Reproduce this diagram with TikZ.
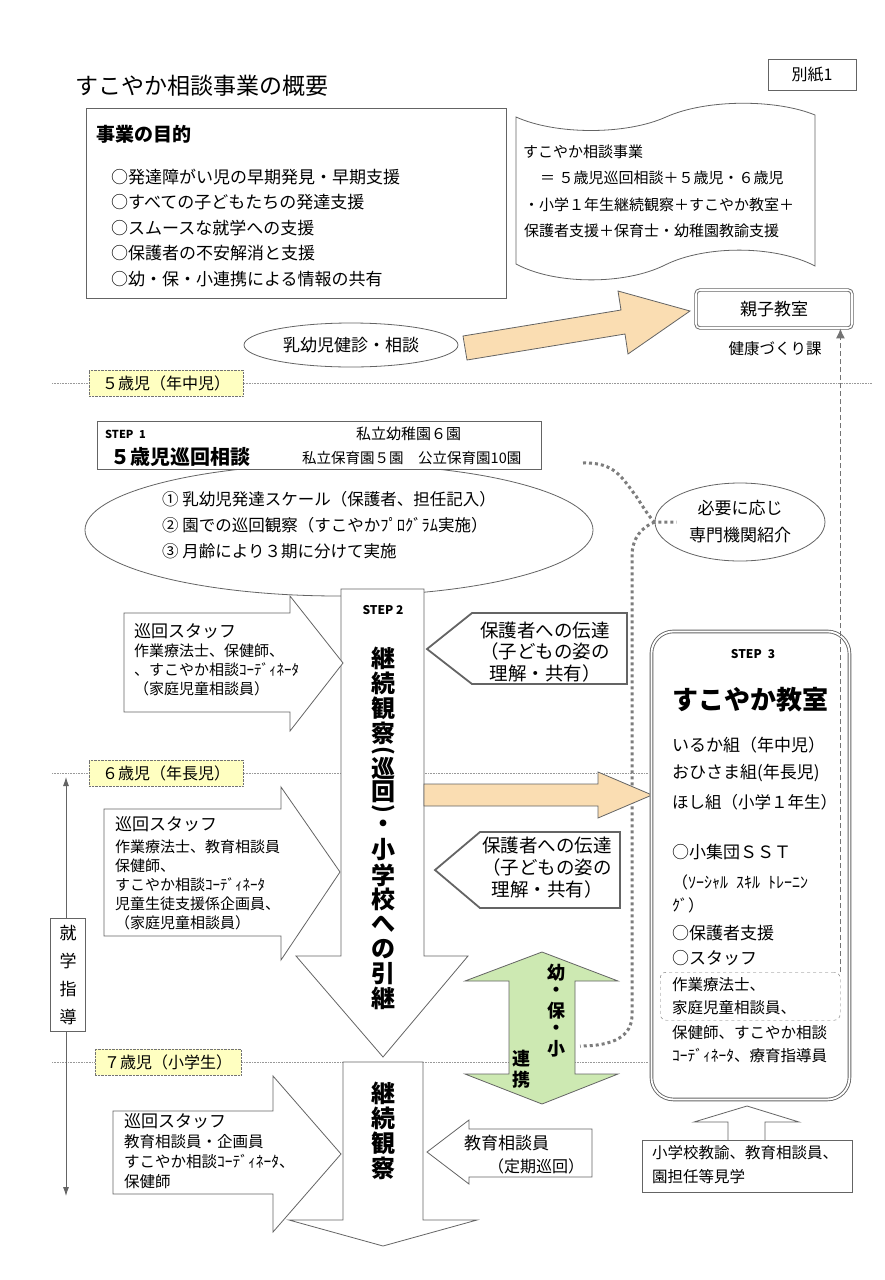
\documentclass[tikz,border=0pt]{standalone}
\usepackage{fontspec}
\setmainfont{Noto Sans CJK JP}
\usepackage{xcolor}
\usepackage{tikz}
\usetikzlibrary{arrows.meta,positioning,shapes.geometric,calc}

\definecolor{tanfill}{RGB}{250,221,178}
\definecolor{greenfill}{RGB}{205,233,178}
\definecolor{agefill}{RGB}{255,255,193}
\definecolor{edgegray}{RGB}{100,100,100}
\definecolor{dotgray}{RGB}{125,125,125}

\newcommand{\fsz}[1]{\fontsize{#1}{#1}\selectfont}

\begin{document}
\begin{tikzpicture}[x=1pt, y=-1pt,
    every node/.style={inner sep=0pt, font=\fsz{15}},
    box/.style={draw=edgegray, line width=0.8pt, fill=white},
    blockarrow/.style={draw=edgegray, line width=0.8pt, fill=white, line join=miter},
    notice/.style={draw=edgegray, line width=1.8pt, fill=white, line join=miter},
    agetag/.style={draw=black!55, densely dotted, fill=agefill, minimum width=154pt, minimum height=26pt, font=\fsz{16}},
    ageline/.style={draw=black!40, densely dotted, line width=0.6pt},
    dotlink/.style={draw=dotgray, line width=3pt, dash pattern=on 3pt off 3pt},
    dashlink/.style={draw=black!55, line width=1pt, dash pattern=on 5pt off 3pt},
    row/.style={anchor=west}
  ]
    % Page
    \fill[white] (0,0) rectangle (885,1280);
    \useasboundingbox (0,0) rectangle (885,1280);

    % Age lines
    \draw[ageline] (52,383) -- (872,383);
    \draw[ageline] (52,773) -- (648,773);
    \draw[ageline] (52,1062) -- (648,1062);

    % Title and purpose
    \node[anchor=west, font=\fsz{23}] (title) at (75,86) {すこやか相談事業の概要};
    \node[box, minimum width=88, minimum height=31, font=\fsz{16}] (annex) at (812,75) {別紙1};
    \node[box, anchor=north west, minimum width=420, minimum height=190] (purpose) at (86,108) {};
    \node[row, font=\bfseries\fsz{19}] (aim) at (96,134) {事業の目的};
    \foreach \t/\yy [count=\i] in {○発達障がい児の早期発見・早期支援/177, ○すべての子どもたちの発達支援/202,
        ○スムースな就学への支援/228, ○保護者の不安解消と支援/253, ○幼・保・小連携による情報の共有/279}
      \node[row, font=\fsz{17}] (aim\i) at (111,\yy) {\t};

    % Tape
    \draw[box] (516,117) .. controls (556,135) and (626,135) .. (666,117) .. controls (706,99) and (776,99) .. (815,115)
      -- (815,266) .. controls (775,245) and (705,245) .. (665,265) .. controls (625,285) and (555,285) .. (516,264) -- cycle;
    \node[row] (tape1) at (523,152) {すこやか相談事業};
    \node[row] (tape2) at (540,178) {＝ ５歳児巡回相談＋５歳児・６歳児};
    \node[row] (tape3) at (524,205) {・小学１年生継続観察＋すこやか教室＋};
    \node[row] (tape4) at (524,231) {保護者支援＋保育士・幼稚園教諭支援};

    % Oyako
    \node[draw=edgegray, double, double distance=1.6pt, line width=0.9pt, fill=white, rounded corners=4pt,
      minimum width=156, minimum height=38, font=\fsz{17}] (oyako) at (774,309) {親子教室};
    \node[font=\fsz{15.5}] (kenko) at (775,349) {健康づくり課};
    \draw[blockarrow, fill=tanfill] (463,336) -- (621,310) -- (618,291) -- (690,311) -- (628,354) -- (625,334) -- (467,360) -- cycle;
    \node[draw=edgegray, line width=0.8pt, ellipse, fill=white, minimum width=214, minimum height=44, font=\fsz{17}] (kenshin) at (351,345) {乳幼児健診・相談};

    % STEP 1
    \node[draw=edgegray, line width=0.8pt, ellipse, fill=white, minimum width=508, minimum height=132] (visit) at (339,530) {};
    \node[row, font=\fsz{16.5}] (visit1) at (162,499) {① 乳幼児発達スケール（保護者、担任記入）};
    \node[row, font=\fsz{16.5}] (visit2) at (162,525) {② 園での巡回観察（すこやかﾌﾟﾛｸﾞﾗﾑ実施）};
    \node[row, font=\fsz{16.5}] (visit3) at (162,551) {③ 月齢により３期に分けて実施};
    \node[box, anchor=north west, minimum width=444, minimum height=48] (stepone) at (97,421) {};
    \node[row, font=\bfseries\fsz{11}] (stepone1) at (105,434) {STEP\enspace 1};
    \node[row, font=\bfseries\fsz{20}] (stepone2) at (110,457) {５歳児巡回相談};
    \node[row] (stepone3) at (356,434) {私立幼稚園６園};
    \node[row, font=\fsz{14.5}] (stepone4) at (302,458) {私立保育園５園\quad 公立保育園10園};

    % Referral
    \coordinate (dotstart) at (583,463);
    \coordinate (dotend) at (580,1046);
    \node[draw=edgegray, line width=0.8pt, ellipse, minimum width=170, minimum height=78, align=center,
      font=\fontsize{17}{27}\selectfont] (refer) at (740,522) {必要に応じ\\専門機関紹介};
    \draw[dotlink] (dotstart) .. controls (615,462) and (622,478) .. (636,496) .. controls (645,510) and (650,518) .. (refer.west) -- ++(22,0);
    \draw[dotlink] (refer.west) .. controls (642,527) and (632,538) .. (632,556) -- (632,1015) .. controls (632,1036) and (614,1046) .. (dotend);

    % STEP 2
    \draw[blockarrow] (341,589) -- (424,589) -- (424,956) -- (468,956) -- (383,1057) -- (296,956) -- (341,956) -- cycle;
    \node[font=\bfseries\fsz{12}] (steptwo) at (383,610) {STEP 2};
    \foreach \ch/\yy [count=\i] in {継/658, 続/683, 観/708, 察/733, 巡/768, 回/792, ・/826,
        小/850, 学/875, 校/899, へ/924, の/949, 引/974, 継/998}
      \node[font=\bfseries\fsz{24}] (stwo\i) at (383,\yy) {\ch};
    \node[font=\bfseries\fsz{22}, rotate=-90] (stwoopen) at (383,751) {(};
    \node[font=\bfseries\fsz{22}, rotate=-90] (stwoclose) at (383,809) {)};

    \draw[blockarrow] (124,613) -- (290,613) -- (290,596) -- (343,663) -- (290,731) -- (290,712) -- (124,712) -- cycle;
    \node[row, font=\fsz{17}] (staffa1) at (134,631) {巡回スタッフ};
    \node[row] (staffa2) at (134,651) {作業療法士、保健師、};
    \node[row] (staffa3) at (134,670) {、すこやか相談ｺｰﾃﾞｨﾈｰﾀ};
    \node[row] (staffa4) at (134,689) {（家庭児童相談員）};

    \draw[notice] (427,649) -- (472,613) -- (627,613) -- (627,684) -- (472,684) -- cycle;
    \node[align=center, font=\fontsize{18.5}{21.5}\selectfont] (tella) at (545,652) {保護者への伝達\\（子どもの姿の\\理解・共有）};

    \draw[blockarrow] (104,809) -- (281,809) -- (281,787) -- (340,872) -- (281,960) -- (281,936) -- (104,936) -- cycle;
    \node[row, font=\fsz{17}] (staffb1) at (115,824) {巡回スタッフ};
    \node[row] (staffb2) at (115,847) {作業療法士、教育相談員};
    \node[row] (staffb3) at (115,866) {保健師、};
    \node[row] (staffb4) at (115,885) {すこやか相談ｺｰﾃﾞｨﾈｰﾀ};
    \node[row] (staffb5) at (115,904) {児童生徒支援係企画員、};
    \node[row] (staffb6) at (115,923) {（家庭児童相談員）};

    \draw[notice] (435,870) -- (480,832) -- (620,832) -- (620,908) -- (480,908) -- cycle;
    \node[align=center, font=\fontsize{18.5}{22}\selectfont] (tellb) at (547,868) {保護者への伝達\\（子どもの姿の\\理解・共有）};

    \draw[blockarrow, fill=tanfill] (424,784) -- (598,784) -- (598,772) -- (652,795) -- (598,818) -- (598,806) -- (424,806) -- cycle;

    % Link arrow
    \draw[blockarrow, fill=greenfill] (542,952) -- (618,981) -- (575,981) -- (575,1074) -- (618,1074) -- (542,1104)
      -- (465,1074) -- (509,1074) -- (509,981) -- (465,981) -- cycle;
    \foreach \ch/\yy [count=\i] in {幼/973, ・/992, 保/1011, ・/1030, 小/1049}
      \node[font=\bfseries\fsz{18}] (link\i) at (556,\yy) {\ch};
    \node[font=\bfseries\fsz{18}] (link6) at (521,1059) {連};
    \node[font=\bfseries\fsz{18}] (link7) at (521,1080) {携};

    % Guidance
    \coordinate (guidetop) at (66,777);
    \coordinate (guidebot) at (66,1196);
    \draw[edgegray, line width=0.8pt, {Latex[length=9pt,width=6pt]}-{Latex[length=9pt,width=6pt]}] (guidetop) -- (guidebot);
    \node[box, minimum width=35, minimum height=113, align=center, font=\fontsize{17}{28}\selectfont] (guide) at (68,975) {就\\学\\指\\導};

    % STEP 3
    \node[draw=edgegray, double, double distance=1.8pt, line width=0.9pt, fill=white, rounded corners=22pt,
      anchor=north west, minimum width=198, minimum height=468] (stepthree) at (651,631) {};
    \node[font=\bfseries\fsz{12}] (stepthree0) at (753,654) {STEP\enspace 3};
    \node[row, font=\bfseries\fsz{26}] (stepthree1) at (672,700) {すこやか教室};
    \node[row, font=\fsz{17}] (class1) at (672,745) {いるか組（年中児）};
    \node[row, font=\fsz{17}] (class2) at (672,773) {おひさま組(年長児)};
    \node[row, font=\fsz{16.5}] (class3) at (672,802) {ほし組（小学１年生）};
    \node[row, font=\fsz{17}] (sst1) at (672,852) {○小集団ＳＳＴ};
    \node[row, font=\fsz{16}] (sst2) at (672,882) {（ｿｰｼｬﾙ\enspace ｽｷﾙ\enspace ﾄﾚｰﾆﾝ};
    \node[row, font=\fsz{16}] (sst3) at (672,905) {ｸﾞ）};
    \node[row, font=\fsz{17}] (parent) at (672,933) {○保護者支援};
    \node[row, font=\fsz{17}] (staff) at (672,958) {○スタッフ};
    \node[draw=black!55, dashed, rounded corners=6pt, anchor=north west, minimum width=180, minimum height=48] (staffframe) at (660,972) {};
    \node[row, font=\fsz{15.5}] (staffc1) at (672,985) {作業療法士、};
    \node[row, font=\fsz{15.5}] (staffc2) at (672,1008) {家庭児童相談員、};
    \node[row, font=\fsz{15.5}] (staffc3) at (672,1033) {保健師、すこやか相談};
    \node[row, font=\fsz{15.5}] (staffc4) at (672,1056) {ｺｰﾃﾞｨﾈｰﾀ、療育指導員};
    \draw[dashlink, -{Latex[length=10pt,width=9pt]}] (staffframe.north east) -- (staffframe.north east |- oyako.south);

    % Visit box
    \draw[blockarrow] (728,1141) -- (728,1122) -- (694,1122) -- (747,1106) -- (799,1122) -- (765,1122) -- (765,1141);
    \node[box, anchor=north west, minimum width=210, minimum height=52] (visitors) at (642,1140) {};
    \node[row, font=\fsz{15.5}] (visitors1) at (652,1153) {小学校教諭、教育相談員、};
    \node[row, font=\fsz{15.5}] (visitors2) at (652,1177) {園担任等見学};

    % Grade 1
    \draw[blockarrow] (343,1062) -- (423,1062) -- (423,1220) -- (477,1220) -- (383,1246) -- (289,1220) -- (343,1220) -- cycle;
    \foreach \ch/\yy [count=\i] in {継/1093, 続/1118, 観/1143, 察/1168}
      \node[font=\bfseries\fsz{24}] (sthree\i) at (383,\yy) {\ch};
    \draw[blockarrow] (113,1111) -- (273,1111) -- (273,1076) -- (341,1154) -- (273,1232) -- (273,1194) -- (113,1194) -- cycle;
    \node[row, font=\fsz{17}] (staffd1) at (124,1121) {巡回スタッフ};
    \node[row, font=\fsz{15.5}] (staffd2) at (124,1142) {教育相談員・企画員};
    \node[row, font=\fsz{15.5}] (staffd3) at (124,1162) {すこやか相談ｺｰﾃﾞｨﾈｰﾀ、};
    \node[row, font=\fsz{15.5}] (staffd4) at (124,1182) {保健師};
    \draw[blockarrow] (427,1152) -- (469,1120) -- (469,1129) -- (592,1129) -- (592,1177) -- (469,1177) -- (469,1184) -- cycle;
    \node[row, font=\fsz{17}] (counsel1) at (464,1143) {教育相談員};
    \node[row, font=\fsz{16}] (counsel2) at (488,1166) {（定期巡回）};

    % Age tags
    \node[agetag] (age5) at (166,383) {５歳児（年中児）};
    \node[agetag] (age6) at (166,773) {６歳児（年長児）};
    \node[agetag, minimum width=146] (age7) at (168,1062) {７歳児（小学生）};
\end{tikzpicture}
\end{document}
